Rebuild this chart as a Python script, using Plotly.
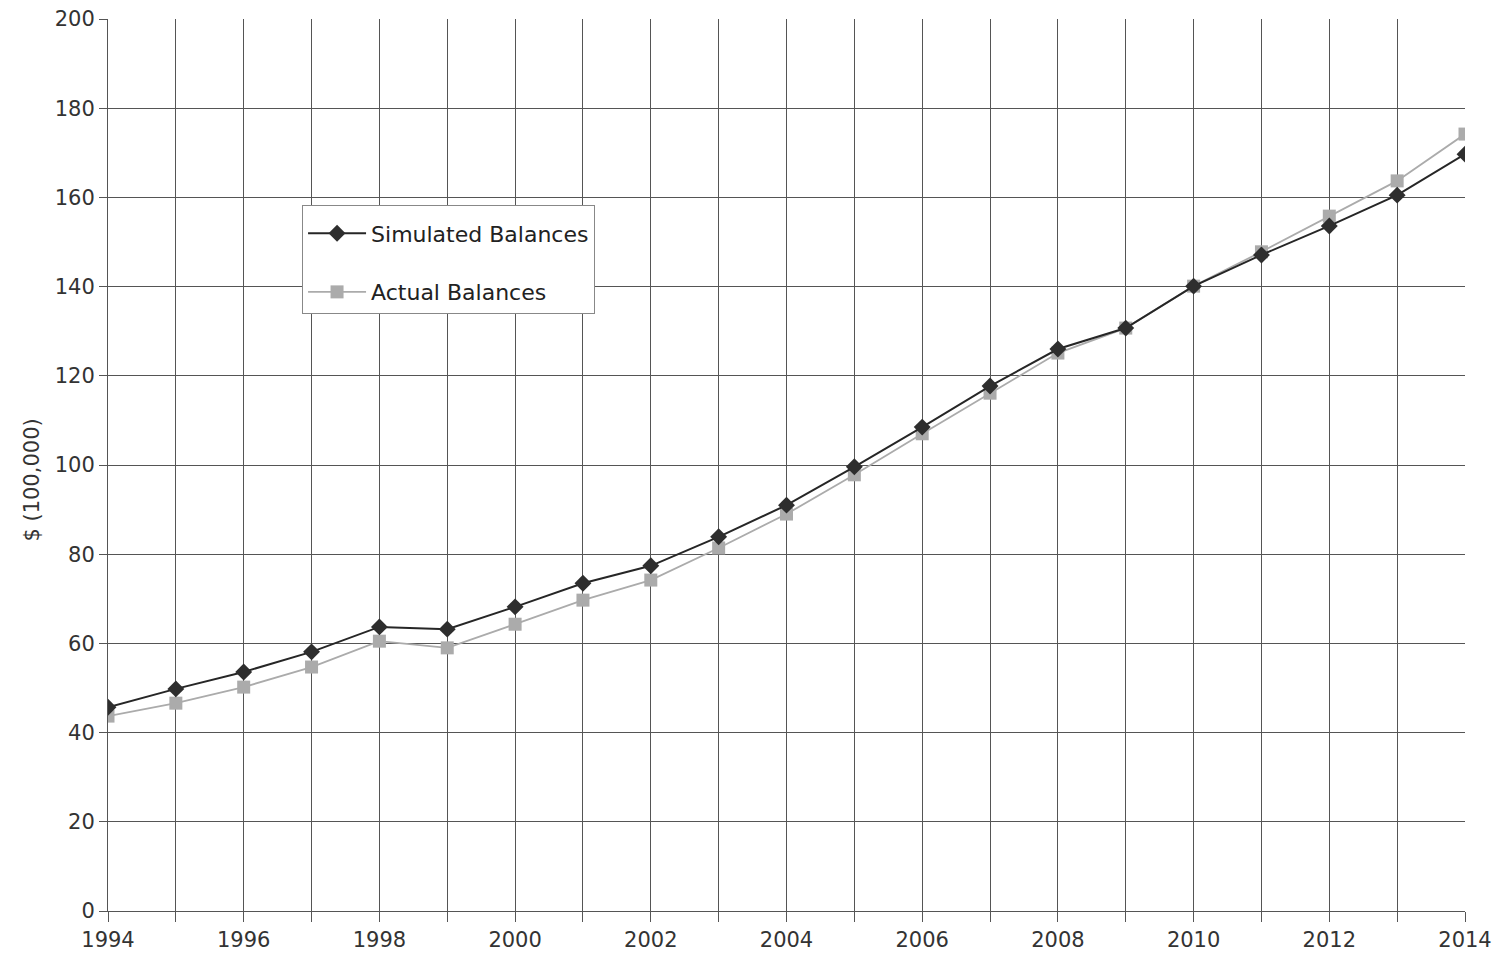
import plotly.graph_objects as go

years = list(range(1994, 2015))
simulated = [45.7, 49.8, 53.6, 58.1, 63.7, 63.2, 68.2, 73.5, 77.4, 83.9, 91.0,
             99.6, 108.5, 117.7, 126.0, 130.7, 140.1, 147.1, 153.6, 160.5, 169.7]
actual = [43.7, 46.6, 50.2, 54.7, 60.5, 59.0, 64.3, 69.7, 74.2, 81.4, 89.0,
          97.8, 107.0, 116.1, 125.1, 130.7, 140.1, 147.8, 155.8, 163.7, 174.2]

x_ticks = list(range(1994, 2015, 2))
y_ticks = list(range(0, 201, 20))

FONT = "DejaVu Sans"
GRID = "#555555"

fig = go.Figure()
fig.add_trace(go.Scatter(
    x=years, y=actual, name="Actual Balances", mode="lines+markers",
    line=dict(color="#ababab", width=1.8),
    marker=dict(symbol="square", size=13, color="#ababab"),
    legendgroup="b", legendrank=2,
))
fig.add_trace(go.Scatter(
    x=years, y=simulated, name="Simulated Balances", mode="lines+markers",
    line=dict(color="#262626", width=2),
    marker=dict(symbol="diamond", size=13, color="#2e2e2e"),
    legendgroup="a", legendrank=1,
))

fig.update_layout(
    width=1503, height=958,
    margin=dict(l=108, r=38, t=19, b=47),
    paper_bgcolor="white", plot_bgcolor="white",
    font=dict(family=FONT, size=21, color="#333"),
    showlegend=True,
    legend=dict(
        x=0.143, y=0.7915, xanchor="left", yanchor="top",
        bordercolor="#888", borderwidth=1, bgcolor="white",
        font=dict(size=22, color="#222"),
        title=dict(text=" ", font=dict(size=5)),
        traceorder="grouped", tracegroupgap=27,
        itemwidth=58,
    ),
    xaxis=dict(
        range=[1994, 2014], tickvals=x_ticks, ticktext=[str(v) for v in x_ticks],
        showgrid=True, gridcolor=GRID, gridwidth=1,
        ticks="outside", ticklen=10, tickcolor=GRID,
        minor=dict(dtick=1, tick0=1994, showgrid=True, gridcolor=GRID, gridwidth=1,
                   ticks="outside", ticklen=10, tickcolor=GRID),
        showline=True, linecolor=GRID, linewidth=1, mirror=False,
        zeroline=False, automargin=False,
    ),
    yaxis=dict(
        range=[0, 200], tickvals=y_ticks,
        showgrid=True, gridcolor=GRID, gridwidth=1,
        ticks="outside", ticklen=8, tickcolor=GRID,
        showline=True, linecolor=GRID, linewidth=1,
        zeroline=False, automargin=False,
    ),
    annotations=[dict(
        text="$ (100,000)", textangle=-90, showarrow=False,
        xref="paper", yref="paper", x=-0.0557, y=0.483,
        xanchor="center", yanchor="middle",
        font=dict(size=21, color="#333"),
    )],
)

fig.write_html("out.html")
